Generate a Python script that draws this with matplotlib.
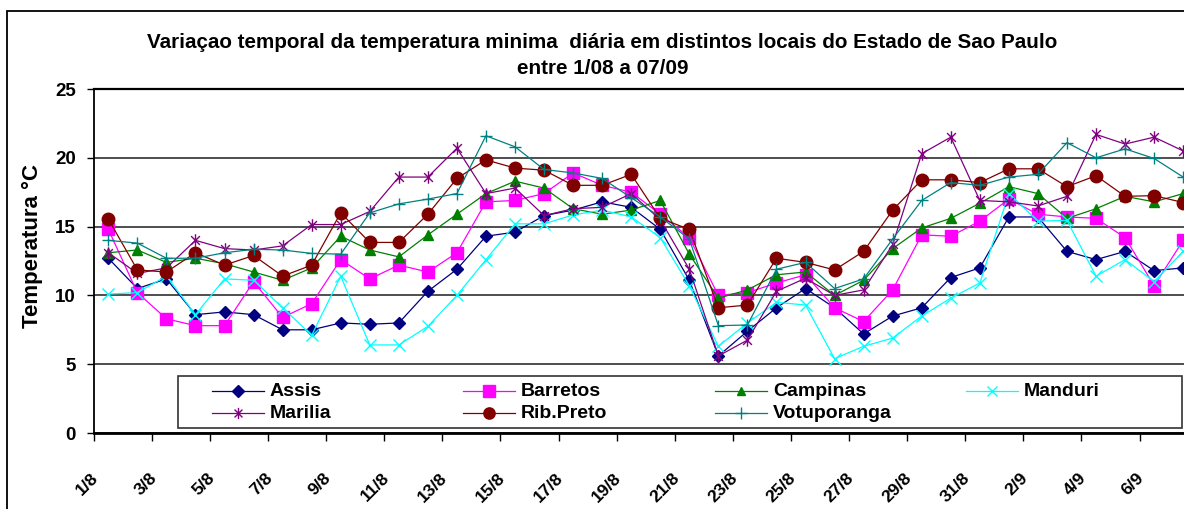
import numpy as np
import matplotlib
matplotlib.use('Agg')
import matplotlib.pyplot as plt
import matplotlib.transforms as mtransforms
from matplotlib.lines import Line2D
from matplotlib.path import Path
from matplotlib.patches import Rectangle

plt.rcParams['font.family'] = ['Liberation Sans', 'DejaVu Sans']
plt.rcParams['font.weight'] = 'bold'

dates = ['{}/8'.format(d) for d in range(1, 32)] + ['{}/9'.format(d) for d in range(1, 8)]

assis = [12.7, 10.5, 11.2, 8.6, 8.8, 8.6, 7.5, 7.5, 8.0, 7.9, 8.0, 10.3, 11.9, 14.3, 14.6, 15.8, 16.2, 16.8, 16.4,
		 14.8, 11.1, 5.6, 7.4, 9.1, 10.5, 9.1, 7.2, 8.5, 9.1, 11.3, 12.0, 15.7, 15.7, 13.2, 12.6, 13.2, 11.8, 12.0]
barretos = [14.8, 10.2, 8.3, 7.8, 7.8, 11.0, 8.4, 9.4, 12.6, 11.2, 12.2, 11.7, 13.1, 16.8, 16.9, 17.4, 18.9, 18.0, 17.5,
			15.9, 14.2, 10.0, 10.2, 10.9, 11.5, 9.1, 8.1, 10.4, 14.4, 14.3, 15.4, 17.0, 15.9, 15.7, 15.6, 14.2, 10.7, 14.0]
campinas = [13.1, 13.3, 12.4, 12.7, 12.3, 11.7, 11.1, 12.0, 14.3, 13.3, 12.8, 14.4, 15.9, 17.4, 18.3, 17.8, 16.3, 15.9, 16.2,
			16.9, 13.0, 9.8, 10.4, 11.5, 11.7, 10.0, 11.1, 13.4, 14.9, 15.6, 16.7, 17.9, 17.4, 15.6, 16.3, 17.2, 16.8, 17.4]
manduri = [10.1, 10.2, 11.4, 8.6, 11.2, 11.1, 9.1, 7.1, 11.4, 6.4, 6.4, 7.75, 10.0, 12.6, 15.2, 15.2, 15.85, 16.2, 15.7,
		   14.2, 10.7, 6.3, 8.0, 9.5, 9.3, 5.4, 6.3, 6.9, 8.5, 9.8, 10.9, 17.4, 15.4, 15.45, 11.4, 12.6, 11.0, 13.2]
marilia = [13.1, 11.6, 12.0, 14.0, 13.4, 13.3, 13.6, 15.15, 15.15, 16.1, 18.6, 18.6, 20.7, 17.4, 17.8, 15.8, 16.3, 16.4, 17.4,
		   15.5, 11.9, 5.6, 6.75, 10.3, 11.25, 10.0, 10.4, 13.7, 20.3, 21.5, 16.9, 16.8, 16.5, 17.2, 21.7, 21.0, 21.5, 20.5]
rib_preto = [15.55, 11.85, 11.7, 13.1, 12.2, 12.9, 11.4, 12.2, 16.0, 13.85, 13.85, 15.9, 18.5, 19.85, 19.25, 19.1, 18.0, 18.0, 18.8,
			 15.6, 14.8, 9.1, 9.3, 12.7, 12.4, 11.85, 13.2, 16.2, 18.4, 18.4, 18.2, 19.2, 19.2, 17.9, 18.7, 17.2, 17.25, 16.75]
votuporanga = [14.0, 13.8, 12.7, 12.7, 13.1, 13.35, 13.3, 13.05, 13.0, 16.0, 16.65, 17.0, 17.4, 21.6, 20.8, 19.15, 18.9, 18.5, 17.1,
			   15.7, 14.1, 7.8, 7.85, 11.9, 12.4, 10.5, 11.2, 14.1, 16.9, 18.2, 18.0, 18.6, 18.8, 21.1, 20.0, 20.65, 19.95, 18.6]

stations = ['Assis', 'Barretos', 'Campinas', 'Manduri', 'Marilia', 'Rib.Preto', 'Votuporanga']
series = [assis, barretos, campinas, manduri, marilia, rib_preto, votuporanga]

# excel style "star" marker: an x with a vertical bar through it
asterisk = Path([(0, -1), (0, 1), (-0.7, -0.7), (0.7, 0.7), (-0.7, 0.7), (0.7, -0.7)],
				[Path.MOVETO, Path.LINETO] * 3)

styles = {
	'Assis': dict(color='#000080', marker='D', ms=6.5),
	'Barretos': dict(color='#FF00FF', marker='s', ms=9),
	'Campinas': dict(color='#008000', marker='^', ms=6.5),
	'Manduri': dict(color='#00FFFF', marker='x', ms=8.5, mew=1),
	'Marilia': dict(color='#800080', marker=asterisk, ms=9, mew=1),
	'Rib.Preto': dict(color='#800000', marker='o', ms=9),
	'Votuporanga': dict(color='#008080', marker='+', ms=9, mew=1),
}

# legend slots (column, row) like the excel legend
legend_slots = {'Assis': (0, 0), 'Barretos': (1, 0), 'Campinas': (2, 0), 'Manduri': (3, 0),
				'Marilia': (0, 1), 'Rib.Preto': (1, 1), 'Votuporanga': (2, 1)}

W, H = 1184, 509


def fx(px):
	return px / W


def fy(py):
	return 1 - py / H


def temp_chart():
	fig = plt.figure(figsize=(W / 100, H / 100), dpi=100)
	# plot area runs a bit past the right edge, like the cropped original
	ax = fig.add_axes([fx(93.8), fy(433), fx(1197.7) - fx(93.8), fy(89) - fy(433)])

	x = np.arange(len(dates))
	for z, (name, vals) in enumerate(zip(stations, series)):
		st = styles[name]
		ax.plot(x, vals, color=st['color'], lw=0.9, marker=st['marker'], ms=st['ms'],
				mew=st.get('mew', 1), mec=st['color'], mfc=st['color'], zorder=3 + z)

	ax.set_xlim(-0.5, len(dates) - 0.5)
	ax.set_ylim(0, 25)
	ax.set_yticks(np.arange(0, 26, 5))
	ax.yaxis.grid(True, color='#404040', lw=1.3)
	ax.set_axisbelow(True)

	ax.set_xticks(np.arange(0, len(dates), 2) - 0.5)
	ax.set_xticklabels(dates[::2], rotation=45, ha='right', va='top', rotation_mode='anchor',
					   fontsize=12.6, fontweight='bold')
	ax.tick_params(axis='x', direction='out', length=6, width=1, pad=21)
	ax.tick_params(axis='y', direction='out', length=5, width=1, pad=8, labelsize=13.5)
	shift = mtransforms.ScaledTranslation(-3 / 100, 0, fig.dpi_scale_trans)
	for lbl in ax.get_xticklabels():
		lbl.set_transform(lbl.get_transform() + shift)

	ax.spines['right'].set_visible(False)
	ax.spines['top'].set_linewidth(1.6)
	ax.spines['left'].set_linewidth(1.3)
	ax.spines['bottom'].set_linewidth(2)

	# outer chart frame
	fig.add_artist(Rectangle((fx(7), fy(700)), 2, fy(11) - fy(700), transform=fig.transFigure,
							 fill=False, ec='black', lw=1.3, clip_on=False))

	fig.text(fx(602), fy(42), 'Variaçao temporal da temperatura minima  diária em distintos locais do Estado de Sao Paulo',
			 ha='center', va='center', fontsize=14.9, fontweight='bold')
	fig.text(fx(603), fy(68), 'entre 1/08 a 07/09', ha='center', va='center', fontsize=14.9, fontweight='bold')
	fig.text(fx(32), fy(246), 'Temperatura °C', rotation=90, ha='center', va='center',
			 fontsize=16, fontweight='bold')

	# legend box drawn by hand to get the evenly spaced excel columns
	fig.add_artist(Rectangle((fx(178), fy(428)), fx(1182) - fx(178), fy(376) - fy(428),
							 transform=fig.transFigure, fc='white', ec='#333333', lw=1.2, zorder=5))
	col_x = [212, 463, 715, 966]
	row_y = [391, 413]
	for name in stations:
		st = styles[name]
		c, r = legend_slots[name]
		x0, y0 = col_x[c], row_y[r]
		fig.add_artist(Line2D([fx(x0), fx(x0 + 26), fx(x0 + 52)], [fy(y0)] * 3, transform=fig.transFigure,
							  color=st['color'], lw=0.9, marker=st['marker'], ms=st['ms'] * 0.9,
							  mew=st.get('mew', 1), mec=st['color'], mfc=st['color'], markevery=[1], zorder=6))
		fig.text(fx(x0 + 58), fy(y0), name, ha='left', va='center', fontsize=14, fontweight='bold', zorder=6)

	fig.savefig('out.png', dpi=100)


if __name__ == '__main__':
	temp_chart()
